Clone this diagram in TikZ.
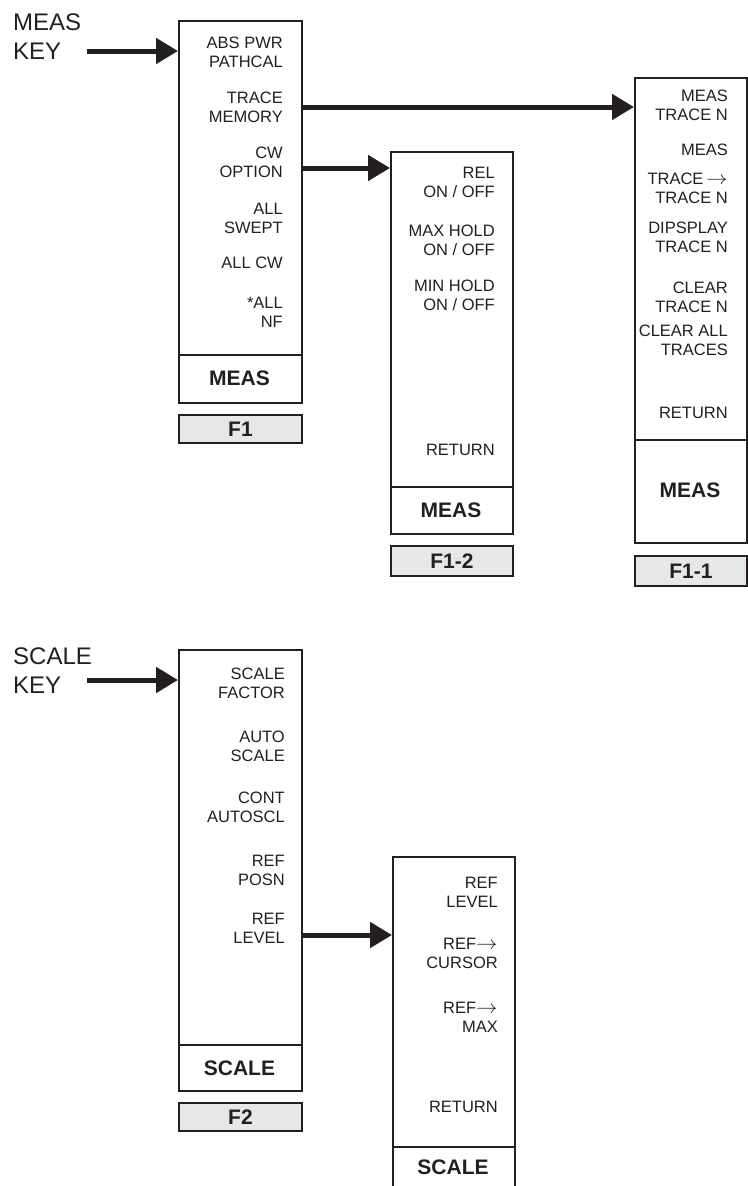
\documentclass[tikz,border=0pt]{standalone}
\usepackage{graphicx}
\usepackage{fontspec}
\setmainfont{Liberation Sans}
\usetikzlibrary{arrows.meta}
\definecolor{ink}{RGB}{35,31,32}
\definecolor{tagfill}{RGB}{230,231,232}
\newcommand{\menuarrow}{\scalebox{1.25}[1.1]{$\rightarrow$}}
\begin{document}
\begin{tikzpicture}[x=1pt,y=-1pt,
  every node/.style={text=ink},
  menubox/.style={draw=ink, line width=2pt, inner sep=0pt, anchor=north west},
  item/.style={anchor=east, align=right, inner sep=0pt, font=\fontsize{16.5}{19}\selectfont},
  foot/.style={inner sep=0pt, font=\bfseries\fontsize{21}{24}\selectfont},
  tag/.style={draw=ink, line width=2pt, fill=tagfill, anchor=north west, inner sep=0pt, font=\bfseries\fontsize{21}{24}\selectfont},
  keylabel/.style={anchor=west, align=left, inner sep=0pt, font=\fontsize{24}{29}\selectfont},
  arr/.style={draw=ink, line width=5pt, -{Triangle[length=22pt,width=25pt]}},
  divider/.style={draw=ink, line width=2pt}]
\useasboundingbox (0,0) rectangle (747,1186);

% ---------- MEAS menu ----------
\node[keylabel] (measkey) at (13,36.5) {MEAS\\KEY};
\node[menubox, minimum width=123pt, minimum height=382pt] (meas) at (178,20) {};
\coordinate (ymd) at (0,355);
\draw[divider] (meas.west |- ymd) -- (meas.east |- ymd);
\node[foot] (measfoot) at (239.5,378) {MEAS};
\node[tag, minimum width=123pt, minimum height=28pt] (f1) at (178,414) {F1};
\node[item] (m1) at (283,52) {ABS PWR\\PATHCAL};
\node[item] (m2) at (283,107) {TRACE\\MEMORY};
\node[item] (m3) at (283,162) {CW\\OPTION};
\node[item] (m4) at (283,218) {ALL\\SWEPT};
\node[item] (m5) at (283,263) {ALL CW};
\node[item] (m6) at (283,312) {*ALL\\NF};

% ---------- F1-2 menu ----------
\node[menubox, minimum width=122pt, minimum height=382pt] (f12box) at (390,151) {};
\coordinate (ya) at (0,487);
\draw[divider] (f12box.west |- ya) -- (f12box.east |- ya);
\node[foot] (f12foot) at (451,510) {MEAS};
\node[tag, minimum width=122pt, minimum height=30pt] (f12) at (390,545) {F1-2};
\node[item] (a1) at (495,182) {REL\\ON / OFF};
\node[item] (a2) at (495,240) {MAX HOLD\\ON / OFF};
\node[item] (a3) at (495,295) {MIN HOLD\\ON / OFF};
\node[item] (a4) at (495,450) {RETURN};

% ---------- F1-1 menu ----------
\node[menubox, minimum width=112pt, minimum height=465pt] (f11box) at (634,77) {};
\coordinate (yb) at (0,440);
\draw[divider] (f11box.west |- yb) -- (f11box.east |- yb);
\node[foot] (f11foot) at (690,490) {MEAS};
\node[tag, minimum width=112pt, minimum height=30pt] (f11) at (634,555) {F1-1};
\node[item] (b1) at (728,105) {MEAS\\TRACE N};
\node[item] (b2) at (728,150) {MEAS};
\node[item] (b3) at (728,188) {TRACE\,\menuarrow\\TRACE N};
\node[item] (b4) at (728,237) {DIPSPLAY\\TRACE N};
\node[item] (b5) at (728,297) {CLEAR\\TRACE N};
\node[item] (b6) at (728,340) {CLEAR ALL\\TRACES};
\node[item] (b7) at (728,413) {RETURN};

% ---------- SCALE menu ----------
\node[keylabel] (scalekey) at (13,671) {SCALE\\KEY};
\node[menubox, minimum width=123pt, minimum height=441pt] (scale) at (178,649) {};
\coordinate (ys) at (0,1045);
\draw[divider] (scale.west |- ys) -- (scale.east |- ys);
\node[foot] (scalefoot) at (239.5,1068) {SCALE};
\node[tag, minimum width=123pt, minimum height=28pt] (f2) at (178,1102) {F2};
\node[item] (s1) at (285,683) {SCALE\\FACTOR};
\node[item] (s2) at (285,746) {AUTO\\SCALE};
\node[item] (s3) at (285,807) {CONT\\AUTOSCL};
\node[item] (s4) at (285,870) {REF\\POSN};
\node[item] (s5) at (285,928) {REF\\LEVEL};

% ---------- SCALE sub menu ----------
\node[menubox, minimum width=122pt, minimum height=340pt] (scale2) at (392,856) {};
\coordinate (yt) at (0,1147);
\draw[divider] (scale2.west |- yt) -- (scale2.east |- yt);
\node[foot] (scale2foot) at (453,1167) {SCALE};
\node[item] (t1) at (498,892) {REF\\LEVEL};
\node[item] (t2) at (498,953) {REF\menuarrow\\CURSOR};
\node[item] (t3) at (498,1017) {REF\menuarrow\\MAX};
\node[item] (t4) at (498,1107) {RETURN};

% ---------- connectors ----------
\coordinate (mk) at (87,51);
\draw[arr] (mk) -- (mk -| meas.west);
\coordinate (ytm) at (0,107);
\draw[arr] (meas.east |- ytm) -- (f11box.west |- ytm);
\coordinate (ycw) at (0,168);
\draw[arr] (meas.east |- ycw) -- (f12box.west |- ycw);
\coordinate (sk) at (87,680);
\draw[arr] (sk) -- (sk -| scale.west);
\coordinate (yrl) at (0,935);
\draw[arr] (scale.east |- yrl) -- (scale2.west |- yrl);
\end{tikzpicture}
\end{document}
